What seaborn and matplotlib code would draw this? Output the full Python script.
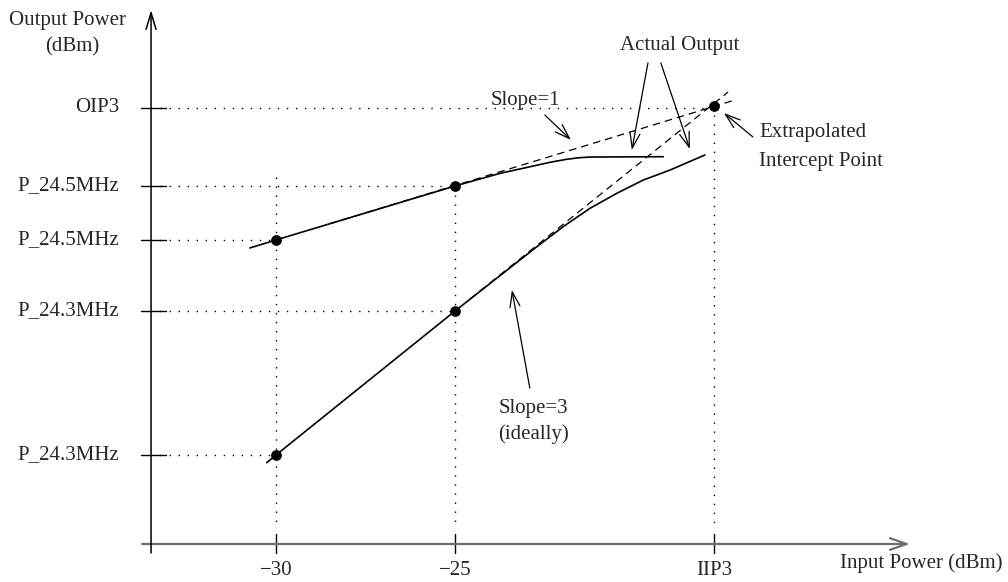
import numpy as np
import pandas as pd
import matplotlib
matplotlib.use("Agg")
import matplotlib.pyplot as plt
import seaborn as sns

# Input power values (dBm) for the three marked columns
x_ticks = [-30, -25, -17.77]
x_tick_labels = ["\u221230", "\u221225", "IIP3"]

# Output power levels (arbitrary dBm-like units)
y_ticks = [40.4, 33.15, 28.15, 21.57, 8.24]
y_tick_labels = ["OIP3", "P_24.5MHz", "P_24.5MHz", "P_24.3MHz", "P_24.3MHz"]

# Measured points
pt_x = [-30, -25, -30, -25, -17.77]
pt_y = [28.15, 33.15, 8.24, 21.57, 40.56]

# Actual output curves
fund_x = [-30.73, -30.0, -25.0, -23.74, -22.81, -22.35, -21.88, -21.55, -21.23, -19.18]
fund_y = [27.41, 28.15, 33.15, 34.32, 35.0, 35.34, 35.62, 35.76, 35.83, 35.86]
im3_x = [-30.26, -30.0, -25.0, -22.77, -21.98, -21.23, -20.48, -19.74, -18.99, -18.02]
im3_y = [7.53, 8.24, 21.57, 27.38, 29.38, 31.08, 32.47, 33.70, 34.63, 36.02]

# Extrapolated (ideal) lines
fund_ext_x = [-28.49, -17.18]
fund_ext_y = [29.66, 41.11]
im3_ext_x = [-24.58, -17.37]
im3_ext_y = [22.69, 41.85]

sns.set_theme(style="white")
plt.rcParams['font.family'] = ['Liberation Serif', 'DejaVu Serif']
FS = 15

fig = plt.figure(figsize=(10.08, 5.82), dpi=100)
ax = fig.add_axes([0, 0, 1, 1])
ax.set_xlim(-37.709, -9.553)
ax.set_ylim(-3.519, 50.37)
ax.axis('off')

axis_x = -33.49
dot = (0, (1, 5.5))

# axes with arrows
ax.annotate("", xy=(-12.29, 0), xytext=(-33.74, 0),
            arrowprops=dict(arrowstyle="->,head_length=1.0,head_width=0.35",
                            color="#6e6e6e", lw=1.6, shrinkA=0, shrinkB=0))
ax.annotate("", xy=(axis_x, 49.44), xytext=(axis_x, -0.83),
            arrowprops=dict(arrowstyle="->,head_length=1.0,head_width=0.3",
                            color="black", lw=1.1, shrinkA=0, shrinkB=0))

# y ticks, labels and dotted guides
guide_x = [-17.77, -25, -30, -25, -30]
for yv, lab, gx in zip(y_ticks, y_tick_labels, guide_x):
    ax.plot([-33.77, -33.07], [yv, yv], color="black", lw=1.0)
    ax.plot([-33.24, gx], [yv, yv], color="black", lw=1.0, linestyle=dot)
    ax.text(-34.385, yv, lab, ha="right", va="center", fontsize=FS)

# x ticks, labels and dotted guides
guide_top = [33.98, 33.15, 40.56]
for xv, lab, top in zip(x_ticks, x_tick_labels, guide_top):
    ax.plot([xv, xv], [0.93, -0.83], color="black", lw=1.0)
    ax.plot([xv, xv], [top, 1.85], color="black", lw=1.0, linestyle=dot)
    ax.text(xv, -2.5, lab, ha="center", va="center", fontsize=FS)

# curves
fund = pd.DataFrame({"x": fund_x, "y": fund_y})
im3 = pd.DataFrame({"x": im3_x, "y": im3_y})
sns.lineplot(data=fund, x="x", y="y", sort=False, color="black", lw=1.2, ax=ax)
sns.lineplot(data=im3, x="x", y="y", sort=False, color="black", lw=1.2, ax=ax)
ax.plot(fund_ext_x, fund_ext_y, color="black", lw=0.9, linestyle=(0, (6, 4)))
ax.plot(im3_ext_x, im3_ext_y, color="black", lw=0.9, linestyle=(0, (6, 4)))

pts = pd.DataFrame({"x": pt_x, "y": pt_y})
sns.scatterplot(data=pts, x="x", y="y", color="black", s=60, edgecolor="black",
                linewidth=0, zorder=5, ax=ax)

# annotations
arrow = dict(arrowstyle="->,head_length=0.9,head_width=0.3", color="black",
             lw=0.9, shrinkA=0, shrinkB=0)
ax.text(-35.81, 48.43, "Output Power", ha="center", va="center", fontsize=FS)
ax.text(-35.70, 46.02, "(dBm)", ha="center", va="center", fontsize=FS)
ax.text(-14.25, -1.76, "Input Power (dBm)", ha="left", va="center", fontsize=FS)

ax.text(-23.02, 41.11, "Slope=1", ha="center", va="center", fontsize=FS)
ax.annotate("", xy=(-21.76, 37.41), xytext=(-22.49, 39.72), arrowprops=arrow)

ax.text(-18.72, 46.2, "Actual Output", ha="center", va="center", fontsize=FS)
ax.annotate("", xy=(-20.06, 36.48), xytext=(-19.61, 44.54), arrowprops=arrow)
ax.annotate("", xy=(-18.44, 36.57), xytext=(-19.25, 44.54), arrowprops=arrow)

ax.text(-16.51, 38.06, "Extrapolated", ha="left", va="center", fontsize=FS)
ax.text(-16.51, 35.37, "Intercept Point", ha="left", va="center", fontsize=FS)
ax.annotate("", xy=(-17.49, 39.91), xytext=(-16.68, 37.69), arrowprops=arrow)

ax.text(-22.82, 12.5, "Slope=3", ha="center", va="center", fontsize=FS)
ax.text(-22.82, 10.19, "(ideally)", ha="center", va="center", fontsize=FS)
ax.annotate("", xy=(-23.41, 23.52), xytext=(-22.91, 14.44), arrowprops=arrow)

fig.savefig("out.png", dpi=100)
